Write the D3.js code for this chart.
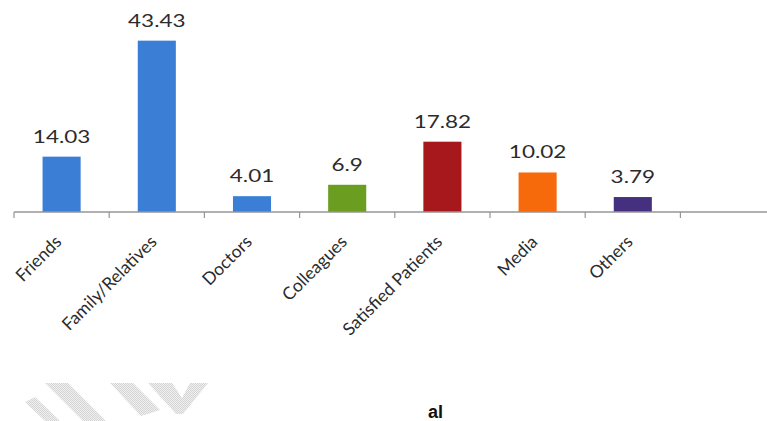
<!DOCTYPE html>
<html>
<head>
<meta charset="utf-8">
<script src="https://cdn.jsdelivr.net/npm/d3@7"></script>
<style>
  html, body { margin: 0; padding: 0; background: #fff; }
  svg { display: block; }
  .val { font-family: Lato, "Open Sans", sans-serif; font-size: 18px; fill: #2b2b2b; }
  .cat { font-family: Lato, "Open Sans", sans-serif; font-size: 17.5px; fill: #2b2b2b; }
</style>
</head>
<body>
<svg id="chart"></svg>
<script>

//============================================================
// Data
//------------------------------------------------------------

var categories = ['Friends', 'Family/Relatives', 'Doctors', 'Colleagues', 'Satisfied Patients', 'Media', 'Others'];
var values     = [14.03, 43.43, 4.01, 6.9, 17.82, 10.02, 3.79];
var colors     = ['#3a7ed6', '#3a7ed6', '#3a7ed6', '#6a9d20', '#a6181c', '#f76a0b', '#45307f'];
var valueText  = ['14.03', '43.43', '4.01', '6.9', '17.82', '10.02', '3.79'];
var emptySlots = [''];   // the plot keeps one unused category slot on the right
var footText   = 'al';

//============================================================

var width = 767,
    height = 421,
    axisY = 212,
    step = 95.2,
    left = 14;

var svg = d3.select('#chart')
    .attr('width', width)
    .attr('height', height);

//------------------------------------------------------------
// Setup Scales

var slots = categories.concat(emptySlots);

var x = d3.scaleBand()
    .domain(slots)
    .range([left, left + step * slots.length])
    .paddingInner(0.6)
    .paddingOuter(0.3);

var y = d3.scaleLinear()
    .domain([0, 50])
    .range([axisY, axisY - 3.945 * 50]);

//------------------------------------------------------------
// Watermark (faded logo fragment, bottom-left)

var pat = svg.append('defs').append('pattern')
    .attr('id', 'dots')
    .attr('width', 2).attr('height', 2)
    .attr('patternUnits', 'userSpaceOnUse');
pat.append('rect').attr('width', 2).attr('height', 2).attr('fill', '#f0f0f0');
pat.append('rect').attr('width', 1).attr('height', 1).attr('fill', '#d4d4d4');
pat.append('rect').attr('x', 1).attr('y', 1).attr('width', 1).attr('height', 1).attr('fill', '#d4d4d4');

var marks = [
  [[25, 402], [35, 397], [60, 421], [45, 421]],
  [[45, 383], [68, 383], [106, 421], [83, 421]],
  [[110, 383], [133, 383], [160, 410], [141, 416]],
  [[148, 383], [172, 383], [182, 398], [190, 383], [208, 383], [183, 414], [176, 414]]
];
svg.append('g').attr('class', 'watermark')
  .selectAll('path')
  .data(marks)
  .enter().append('path')
    .attr('d', function(d) { return 'M' + d.join('L') + 'Z'; })
    .attr('fill', 'url(#dots)');

//------------------------------------------------------------
// Bars

var wrap = svg.append('g').attr('class', 'bars');

wrap.selectAll('rect')
    .data(values)
  .enter().append('rect')
    .attr('x', function(d, i) { return x(categories[i]); })
    .attr('y', function(d) { return y(d); })
    .attr('width', x.bandwidth())
    .attr('height', function(d) { return y(0) - y(d); })
    .attr('fill', function(d, i) { return colors[i]; });

wrap.selectAll('text.val')
    .data(values)
  .enter().append('text')
    .attr('class', 'val')
    .attr('text-anchor', 'middle')
    .attr('transform', function(d, i) {
      var cx = x(categories[i]) + x.bandwidth() / 2;
      return 'translate(' + cx + ',' + (y(d) - 14) + ') scale(1.25,1)';
    })
    .text(function(d, i) { return valueText[i]; });

//------------------------------------------------------------
// Axis

var axis = svg.append('g').attr('class', 'axis');

axis.append('line')
    .attr('x1', left).attr('x2', width)
    .attr('y1', axisY).attr('y2', axisY)
    .attr('stroke', '#969696')
    .attr('stroke-width', 1.5);

axis.selectAll('line.tick')
    .data(d3.range(slots.length + 1))
  .enter().append('line')
    .attr('class', 'tick')
    .attr('x1', function(i) { return x.range()[0] + i * x.step(); })
    .attr('x2', function(i) { return x.range()[0] + i * x.step(); })
    .attr('y1', axisY)
    .attr('y2', axisY + 6)
    .attr('stroke', '#969696')
    .attr('stroke-width', 1.2);

axis.selectAll('text.cat')
    .data(categories)
  .enter().append('text')
    .attr('class', 'cat')
    .attr('text-anchor', 'end')
    .attr('transform', function(d) {
      var cx = x(d) + x.bandwidth() / 2;
      return 'translate(' + (cx + 1) + ',' + 243 + ') rotate(-45)';
    })
    .text(function(d) { return d; });

//------------------------------------------------------------
// Footer fragment

svg.append('text')
    .attr('x', 428)
    .attr('y', 418)
    .attr('font-family', '"Liberation Sans", Arial, sans-serif')
    .attr('font-weight', 'bold')
    .attr('font-size', 18)
    .attr('fill', '#111')
    .text(footText);

</script>
</body>
</html>
